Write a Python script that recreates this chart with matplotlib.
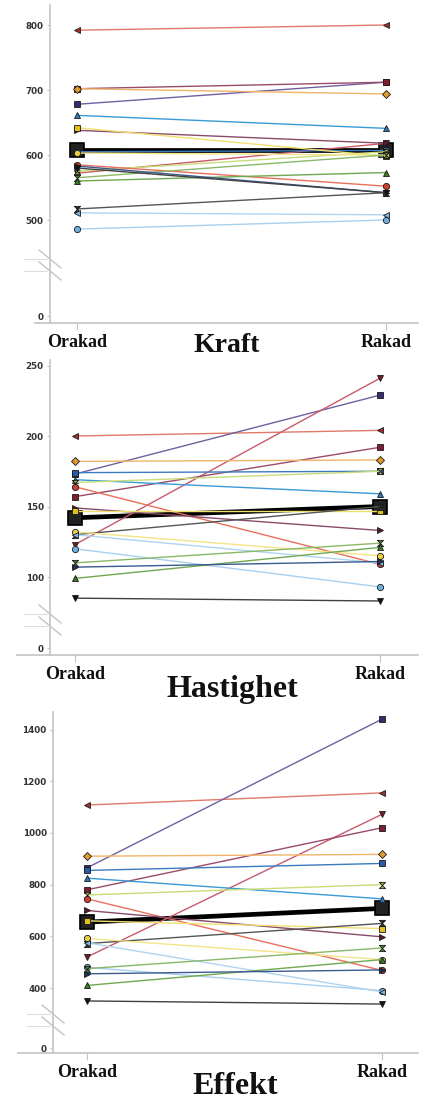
import numpy as np
import matplotlib
matplotlib.use("Agg")
import matplotlib.pyplot as plt

# Data: one value per subject, before (Orakad) and after (Rakad)
conditions = ["Orakad", "Rakad"]
subjects = list("ABCDEFGHIJKLMNOPQRS")

kraft_orakad = [792, 678, 572, 702, 702, 605, 661, 575, 585, 638, 642, 517, 603, 486, 511, 565, 560, 583, 580]
kraft_rakad = [800, 712, 618, 712, 694, 607, 641, 605, 552, 618, 598, 542, 600, 500, 508, 600, 573, 542, 542]
kraft_mean = [608, 608]

hast_orakad = [200, 173, 123, 157, 182, 174, 169, 167, 164, 149, 147, 130, 132, 120, 130, 110, 99, 107, 85]
hast_rakad = [204, 229, 241, 192, 183, 175, 159, 175, 109, 133, 147, 150, 115, 93, 110, 124, 121, 111, 83]
hast_mean = [142, 150]

effekt_orakad = [1108, 865, 520, 780, 910, 855, 825, 760, 745, 700, 660, 572, 592, 480, 575, 475, 410, 455, 350]
effekt_rakad = [1155, 1440, 1072, 1020, 917, 882, 745, 800, 468, 598, 630, 650, 510, 390, 385, 555, 510, 470, 338]
effekt_mean = [655, 708]

kraft_ticks = [0, 500, 600, 700, 800]
hast_ticks = [0, 100, 150, 200, 250]
effekt_ticks = [0, 400, 600, 800, 1000, 1200, 1400]

# styles per subject: line colour, marker face, marker
hourglass = [(-1, 1), (1, 1), (-1, -1), (1, -1), (-1, 1)]
styles = {
    "A": ("#e07a6a", "#a03030", "<"),
    "B": ("#7060a0", "#3a2a70", "s"),
    "C": ("#c85a6a", "#7a1a2a", "v"),
    "D": ("#9a4a6a", "#7a2030", "s"),
    "E": ("#f2b468", "#e09a30", "D"),
    "F": ("#3a7abf", "#2a5aa0", "s"),
    "G": ("#3a9ad8", "#2a7ac0", "^"),
    "H": ("#c8dc78", "#a0b040", hourglass),
    "I": ("#e8705a", "#d04030", "o"),
    "J": ("#8a4a6a", "#5a1a3a", ">"),
    "K": ("#f0e070", "#e0c020", "s"),
    "L": ("#555555", "#303030", hourglass),
    "M": ("#f5e488", "#e8d040", "o"),
    "N": ("#a8d0ee", "#70b0e0", "o"),
    "O": ("#b0d4f0", "#80b8e0", "<"),
    "P": ("#8ab868", "#4a8030", hourglass),
    "Q": ("#70a850", "#3a7a20", "^"),
    "R": ("#3a5a90", "#203060", ">"),
    "S": ("#404040", "#111111", "v"),
}

W, H = 428, 1100
fig = plt.figure(figsize=(W / 100, H / 100), dpi=100)
axis_col = "#c4c4c4"


def make_scale(b, k):
    def fwd(y):
        y = np.asarray(y, dtype=float)
        return np.where(y < b, y * k, b * k + (y - b))

    def inv(t):
        t = np.asarray(t, dtype=float)
        return np.where(t < b * k, t / k, t - b * k + b)
    return fwd, inv


def panel(orakad, rakad, mean, ticks, title, title_size, box, spine_x, x0, x1,
          b, k, ppu, zero_px, break_px, title_xy, mean_ms):
    left, right, top, bot = box
    ax = fig.add_axes([left / W, 1 - bot / H, (right - left) / W, (bot - top) / H])
    fwd, inv = make_scale(b, k)
    ax.set_yscale("function", functions=(fwd, inv))
    t_top = (zero_px - top) / ppu
    t_bot = (zero_px - bot) / ppu
    ax.set_ylim(float(inv(t_bot)), float(inv(t_top)))
    span = x1 - x0
    ax.set_xlim(-(x0 - left) / span, 1 + (right - x1) / span)

    xs = [0, 1]
    ax.plot(xs, mean, color="black", lw=3.4, marker="s", ms=mean_ms,
            mfc="#222222", mec="black", mew=1.2, zorder=2)
    for i, s in enumerate(subjects):
        lc, fc, mk = styles[s]
        ax.plot(xs, [orakad[i], rakad[i]], color=lc, lw=1.0, marker=mk, ms=4.5,
                mfc=fc, mec="#1a1a1a", mew=0.6, zorder=3)

    for side in ["top", "right"]:
        ax.spines[side].set_visible(False)
    ax.spines["left"].set_position(("data", (spine_x - x0) / span))
    ax.spines["left"].set_color(axis_col)
    ax.spines["bottom"].set_color(axis_col)
    ax.spines["left"].set_linewidth(1.2)
    ax.spines["bottom"].set_linewidth(1.2)

    ax.set_yticks(ticks)
    ax.set_yticklabels([str(t) for t in ticks], fontsize=6.3, fontweight="bold", color="#333333")
    ax.yaxis.set_minor_locator(matplotlib.ticker.NullLocator())
    ax.tick_params(axis="y", length=2.5, width=0.8, color=axis_col, pad=2)
    ax.set_xticks(xs)
    ax.set_xticklabels(conditions, fontsize=13, fontweight="bold",
                       family="Liberation Serif", color="#111111")
    ax.tick_params(axis="x", length=5, width=0.8, color=axis_col, pad=3)
    ax.patch.set_alpha(0)

    # break marks on the y axis
    axw, axh = right - left, bot - top
    xf = (spine_x - left) / axw
    for off in (-6, 6):
        yc = (bot - (zero_px - break_px) + off) / axh
        ax.plot([xf - 11 / axw, xf + 11 / axw], [yc + 9 / axh, yc - 9 / axh],
                transform=ax.transAxes, color=axis_col, lw=1.0, clip_on=False)
        ax.plot([xf - 26 / axw, xf - 3 / axw], [yc, yc],
                transform=ax.transAxes, color="#dddddd", lw=0.8, clip_on=False)

    fig.text(title_xy[0] / W, 1 - title_xy[1] / H, title, fontsize=title_size,
             fontweight="bold", family="Liberation Serif", ha="center", va="center",
             color="#111111")
    return ax


panel(kraft_orakad, kraft_rakad, kraft_mean, kraft_ticks, "Kraft", 20,
      (35, 418, 5, 323), 50, 77, 386, 440, 0.1993, 0.65, 316, 51, (227, 345), 10)
panel(hast_orakad, hast_rakad, hast_mean, hast_ticks, "Hastighet", 23,
      (17, 418, 360, 655), 50, 75, 380, 75, 0.338, 1.41, 648, 28, (232, 690), 10)
panel(effekt_orakad, effekt_rakad, effekt_mean, effekt_ticks, "Effekt", 23,
      (18, 418, 712, 1053), 53, 87, 382, 300, 0.44, 0.2585, 1048, 28, (235, 1086), 10)

fig.savefig("out.png", dpi=100)
